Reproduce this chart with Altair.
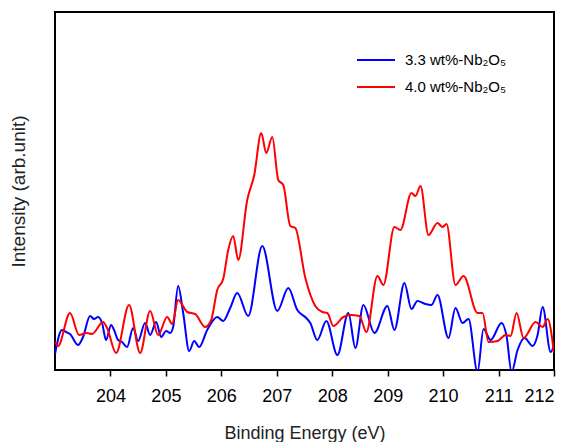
import altair as alt
import pandas as pd

series_names = ["3.3 wt%-Nb\u2082O\u2085", "4.0 wt%-Nb\u2082O\u2085"]
series_colors = ["#0000FF", "#FF0000"]

blue_energy = [203.0, 203.126, 203.199, 203.271, 203.415, 203.506, 203.632, 203.704, 203.777, 203.849,
               203.921, 204.011, 204.065, 204.138, 204.210, 204.300, 204.409, 204.499, 204.625, 204.716,
               204.824, 204.914, 205.005, 205.077, 205.131, 205.221, 205.312, 205.420, 205.510, 205.600,
               205.745, 205.926, 206.034, 206.160, 206.287, 206.485, 206.738, 207.009, 207.208, 207.370,
               207.533, 207.605, 207.731, 207.894, 208.093, 208.291, 208.418, 208.562, 208.761, 208.995,
               209.122, 209.302, 209.429, 209.537, 209.682, 209.790, 209.898, 210.097, 210.223, 210.350,
               210.458, 210.621, 210.729, 210.856, 211.054, 211.144, 211.235, 211.343, 211.469, 211.614,
               211.704, 211.795, 211.939, 212.0]
blue_intensity = [16, 40, 38, 36, 25, 33, 54, 51, 53, 47,
                  30, 45, 40, 30, 28, 23, 42, 29, 47, 35,
                  48, 33, 39, 37, 43, 84, 57, 19, 29, 23,
                  40, 53, 49, 62, 77, 54, 124, 59, 82, 60,
                  52, 47, 30, 49, 15, 57, 22, 65, 37, 64,
                  40, 87, 61, 69, 66, 65, 75, 32, 62, 47,
                  51, -2, 41, 30, 47, 34, -2, 20, 32, 24,
                  35, 63, 18, 25]

red_energy = [203.0, 203.054, 203.271, 203.433, 203.578, 203.668, 203.867, 203.939, 204.102, 204.336,
              204.535, 204.716, 204.860, 205.023, 205.113, 205.221, 205.384, 205.528, 205.709, 205.817,
              205.926, 206.034, 206.124, 206.214, 206.305, 206.467, 206.594, 206.720, 206.810, 206.919,
              207.027, 207.117, 207.244, 207.334, 207.515, 207.695, 207.822, 207.912, 208.020, 208.201,
              208.327, 208.490, 208.616, 208.815, 208.923, 209.122, 209.230, 209.429, 209.501, 209.592,
              209.736, 209.898, 209.989, 210.061, 210.223, 210.368, 210.621, 210.711, 210.819, 210.982,
              211.126, 211.217, 211.325, 211.451, 211.668, 211.795, 211.885, 212.0]
red_intensity = [28, 24, 57, 35, 37, 36, 48, 42, 17, 65,
                 17, 59, 35, 53, 46, 70, 58, 56, 43, 50,
                 80, 91, 120, 134, 110, 170, 195, 237, 217, 233,
                 190, 185, 144, 142, 92, 64, 58, 57, 44, 53,
                 55, 54, 38, 94, 85, 143, 140, 177, 174, 184,
                 135, 147, 143, 146, 85, 94, 57, 57, 28, 29,
                 35, 34, 57, 32, 48, 43, 51, 17]

x_ticks = [204, 205, 206, 207, 208, 209, 210, 211, 212]

df = pd.concat([
    pd.DataFrame({"energy": blue_energy, "intensity": blue_intensity, "series": series_names[0]}),
    pd.DataFrame({"energy": red_energy, "intensity": red_intensity, "series": series_names[1]}),
])

FONT = "Liberation Sans"

lines = alt.Chart(df).mark_line(strokeWidth=2, interpolate="monotone", clip=True).encode(
    x=alt.X("energy:Q",
            scale=alt.Scale(domain=[203, 212], nice=False, zero=False),
            axis=alt.Axis(values=x_ticks, format="d", title="Binding Energy (eV)",
                          tickSize=6, tickWidth=1.5, tickColor="black", domain=False, grid=False,
                          labelFontSize=18, labelColor="black", labelPadding=11, labelFont=FONT,
                          titleFontSize=18, titleFontWeight="normal", titleColor="#222222",
                          titleFont=FONT, titlePadding=19)),
    y=alt.Y("intensity:Q",
            scale=alt.Scale(domain=[0, 358], nice=False, zero=False),
            axis=alt.Axis(title="Intensity (arb.unit)", ticks=False, labels=False, domain=False,
                          grid=False, titleFontSize=19, titleFontWeight="normal",
                          titleColor="#222222", titleFont=FONT, titlePadding=27)),
    color=alt.Color("series:N", scale=alt.Scale(domain=series_names, range=series_colors),
                    legend=None),
    order=alt.Order("energy:Q"),
)

layers = [lines]
for i, (name, col) in enumerate(zip(series_names, series_colors)):
    ypos = 48 + 27 * i
    layers.append(
        alt.Chart(pd.DataFrame({"label": [name]})).mark_rule(color=col, strokeWidth=2).encode(
            x=alt.value(302), x2=alt.value(340), y=alt.value(ypos))
    )
    layers.append(
        alt.Chart(pd.DataFrame({"label": [name]})).mark_text(
            align="left", baseline="middle", fontSize=15, font=FONT, color="black").encode(
            x=alt.value(350), y=alt.value(ypos), text="label:N")
    )

chart = alt.layer(*layers).properties(
    width=499, height=358,
    autosize=alt.AutoSizeParams(type="none"),
    padding={"left": 55, "top": 12, "right": 19, "bottom": 72},
).configure_view(stroke="black", strokeWidth=2)

chart.save("out.html", embed_options={"renderer": "svg", "actions": False})
